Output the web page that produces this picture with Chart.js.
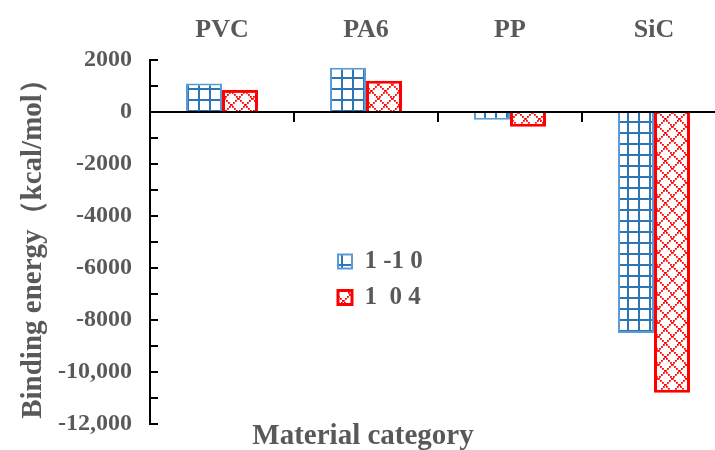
<!DOCTYPE html>
<html>
<head>
<meta charset="utf-8">
<title>Binding energy by material</title>
<script src="https://cdn.jsdelivr.net/npm/chart.js@4"></script>
<style>
    html, body { margin: 0; padding: 0; background: #fff; overflow: hidden; }
    #wrap { width: 726px; height: 450px; }
</style>
</head>
<body>
<div id="wrap"><canvas id="bindingChart"></canvas></div>
<script>
// Chart data
const categories = ['PVC', 'PA6', 'PP', 'SiC'];
const legendLabels = ['1 -1 0', '1  0 4'];
const series110 = [1100, 1700, -300, -8500];
const series104 = [850, 1200, -570, -10800];
const yTickValues = [2000, 0, -2000, -4000, -6000, -8000, -10000, -12000];
const yTickLabels = ['2000', '0', '-2000', '-4000', '-6000', '-8000', '-10,000', '-12,000'];
const yTitle = 'Binding energy（kcal/mol）';
const xTitle = 'Material category';

const serif = "'Liberation Serif', 'Times New Roman', serif";
const textColor = '#595959';

// Blue square grid fill
function makeGridPattern() {
    const c = document.createElement('canvas');
    c.width = 11;
    c.height = 11;
    const g = c.getContext('2d');
    g.fillStyle = '#fff';
    g.fillRect(0, 0, 11, 11);
    g.fillStyle = '#2e75b6';
    g.fillRect(0, 0, 11, 2);
    g.fillRect(0, 0, 2, 11);
    return g.createPattern(c, 'repeat');
}

// Red dotted diagonal lattice fill
function makeCrossPattern() {
    const size = 14;
    const c = document.createElement('canvas');
    c.width = size;
    c.height = size;
    const g = c.getContext('2d');
    g.fillStyle = '#fff';
    g.fillRect(0, 0, size, size);
    g.fillStyle = '#ff0000';
    for (let i = 0; i < size; i += 2) {
        g.fillRect(i, i, 1.8, 1.8);
        g.fillRect(size - 1 - i, i, 1.8, 1.8);
    }
    return g.createPattern(c, 'repeat');
}

// Move the legend into the middle of the plot
const legendMover = {
    id: 'legendMover',
    afterLayout(chart) {
        const lg = chart.legend;
        if (!lg) return;
        const dx = 327 - lg.left;
        const dy = 238 - lg.top;
        lg.left += dx; lg.right += dx;
        lg.top += dy; lg.bottom += dy;
    }
};

function yLabel(value) {
    const idx = yTickValues.indexOf(value);
    return idx >= 0 ? yTickLabels[idx] : '';
}

new Chart(document.getElementById('bindingChart'), {
    type: 'bar',
    data: {
        labels: categories,
        datasets: [{
            label: legendLabels[0],
            data: series110,
            backgroundColor: makeGridPattern(),
            borderColor: '#5b9bd5',
            borderWidth: 2
        }, {
            label: legendLabels[1],
            data: series104,
            backgroundColor: makeCrossPattern(),
            borderColor: '#ff0000',
            borderWidth: 3
        }]
    },
    options: {
        responsive: true,
        maintainAspectRatio: false,
        animation: false,
        barPercentage: 1,
        categoryPercentage: 0.5,
        layout: { padding: 0 },
        plugins: {
            legend: {
                position: 'chartArea',
                align: 'start',
                labels: {
                    boxWidth: 14,
                    boxHeight: 14,
                    padding: 11,
                    color: textColor,
                    font: { family: serif, size: 25, weight: 'bold' }
                }
            },
            title: {
                display: true,
                position: 'bottom',
                text: xTitle,
                color: textColor,
                padding: 0,
                font: { family: serif, size: 29, weight: 'bold', lineHeight: 0.9 }
            },
            tooltip: { enabled: false }
        },
        scales: {
            x: {
                position: 'top',
                grid: { display: false },
                border: { display: false },
                ticks: {
                    color: textColor,
                    padding: 6,
                    font: { family: serif, size: 26, weight: 'bold' }
                },
                afterFit: function(scale) { scale.height = 60; }
            },
            x2: {
                type: 'category',
                position: { y: 0 },
                offset: true,
                grid: {
                    offset: true,
                    drawOnChartArea: false,
                    tickLength: 9,
                    color: '#000',
                    lineWidth: 2
                },
                border: { color: '#000', width: 2 },
                ticks: { display: false },
                afterFit: function(scale) { scale.height = 0; }
            },
            y: {
                min: -12000,
                max: 2000,
                grid: {
                    drawOnChartArea: false,
                    tickLength: -8,
                    color: '#000',
                    lineWidth: 2
                },
                border: { color: '#000', width: 2 },
                ticks: {
                    stepSize: 1000,
                    autoSkip: false,
                    padding: 26,
                    color: textColor,
                    font: { family: serif, size: 24, weight: 'bold' },
                    callback: function(value) { return yLabel(value); }
                },
                title: {
                    display: true,
                    text: yTitle,
                    color: textColor,
                    padding: { top: 16, bottom: 0 },
                    font: { family: serif, size: 29, weight: 'bold' }
                },
                afterFit: function(scale) {
                    scale.width = 150;
                    // labels at the ends may spill into the title areas
                    scale.paddingTop = 0;
                    scale.paddingBottom = 0;
                }
            }
        }
    },
    plugins: [legendMover]
});
</script>
</body>
</html>
